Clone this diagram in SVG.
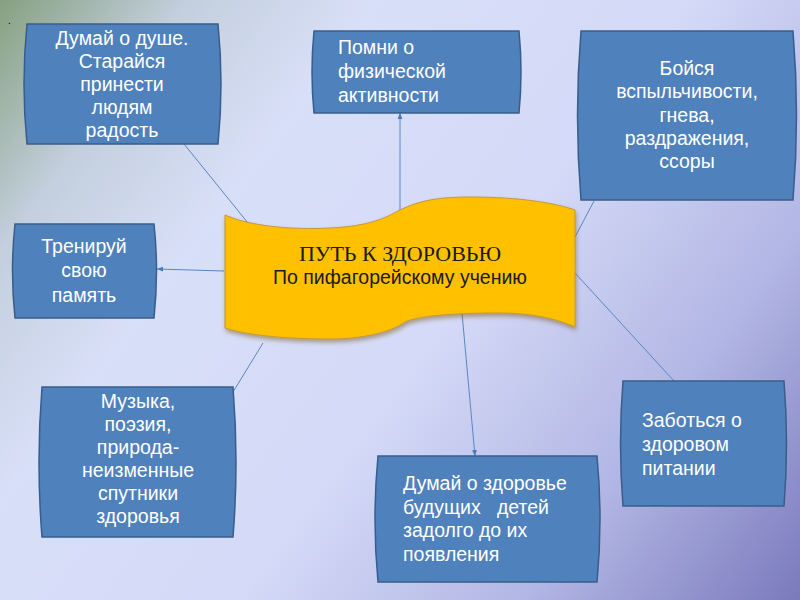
<svg xmlns="http://www.w3.org/2000/svg" width="800" height="600" viewBox="0 0 800 600">
<defs>
<linearGradient id="bg" x1="0" y1="0" x2="800" y2="600" gradientUnits="userSpaceOnUse">
<stop offset="0" stop-color="#86A080"/>
<stop offset="0.15" stop-color="#C3CFDD"/>
<stop offset="0.3" stop-color="#D8DFF8"/>
<stop offset="0.55" stop-color="#D4DAF7"/>
<stop offset="0.78" stop-color="#B2B6E4"/>
<stop offset="1" stop-color="#7A7ABC"/>
</linearGradient>
<filter id="sh" x="-10%" y="-10%" width="120%" height="130%">
<feGaussianBlur in="SourceAlpha" stdDeviation="2"/>
<feOffset dx="1" dy="3" result="b"/>
<feFlood flood-color="#7a5a20" flood-opacity="0.5"/>
<feComposite in2="b" operator="in"/>
<feMerge><feMergeNode/><feMergeNode in="SourceGraphic"/></feMerge>
</filter>
<marker id="ah" viewBox="0 0 10 10" refX="10" refY="5" markerWidth="6" markerHeight="6" orient="auto-start-reverse" markerUnits="userSpaceOnUse">
<path d="M0,1 L10,5 L0,9 Z" fill="#4A78B4"/>
</marker>
</defs>
<style>
.box{fill:#4F81BD;stroke:#385D8A;stroke-width:1.5}
.t{font-family:"Liberation Sans",Arial,sans-serif;font-size:19.5px;fill:#FFFFFF}
.c{text-anchor:middle}
.ln{stroke:#5A86C2;stroke-width:1;fill:none}
</style>
<rect width="800" height="600" fill="url(#bg)"/>
<text x="8" y="24" font-family="Liberation Sans, sans-serif" font-size="10" fill="#000">.</text>
<g id="connectors">
<line class="ln" x1="184" y1="144" x2="248" y2="223"/>
<line class="ln" x1="400" y1="210" x2="400" y2="113" marker-end="url(#ah)"/>
<line class="ln" x1="594" y1="201" x2="575" y2="237"/>
<line class="ln" x1="224" y1="271" x2="157" y2="269" marker-end="url(#ah)"/>
<line class="ln" x1="263" y1="343" x2="233" y2="392"/>
<line class="ln" x1="462" y1="313" x2="475" y2="456" marker-end="url(#ah)"/>
<line class="ln" x1="575" y1="273" x2="674" y2="381"/>
</g>
<g id="center">
<path d="M225,215 C250,226 290,230 330,228 C370,226 385,218 400,210 C420,200 440,197 470,197 C520,197 555,203 575,210 L575,327 C555,318 530,313 500,313 C460,313 420,315 405,322 C390,333 360,339 330,339 C290,339 250,336 225,328 Z" fill="#FFC000" stroke="#C8963C" stroke-width="1" filter="url(#sh)"/>
<text x="400" y="261" text-anchor="middle" font-family="Liberation Serif, Times New Roman, serif" font-size="22" fill="#1a1a1a">ПУТЬ К ЗДОРОВЬЮ</text>
<text x="400" y="284" text-anchor="middle" font-family="Liberation Sans, Arial, sans-serif" font-size="19.5" fill="#1a1a1a">По пифагорейскому учению</text>
</g>
<g id="n1">
<path class="box" d="M27,24 H218 Q224,84 218,144 H27 Q21,84 27,24 Z"/>
<text class="t c" x="122"><tspan x="122" y="45">Думай о душе.</tspan><tspan x="122" y="68">Старайся</tspan><tspan x="122" y="91">принести</tspan><tspan x="122" y="114">людям</tspan><tspan x="122" y="137">радость</tspan></text>
</g>
<g id="n2">
<path class="box" d="M314,31 H519 Q523,72 519,113 H314 Q310,72 314,31 Z"/>
<text class="t" x="338"><tspan x="338" y="54">Помни о</tspan><tspan x="338" y="78">физической</tspan><tspan x="338" y="102">активности</tspan></text>
</g>
<g id="n3">
<path class="box" d="M581,31 H793 Q800,115 793,200 H581 Q574,115 581,31 Z"/>
<text class="t c" x="687"><tspan x="687" y="75">Бойся</tspan><tspan x="687" y="98">вспыльчивости,</tspan><tspan x="687" y="122">гнева,</tspan><tspan x="687" y="145">раздражения,</tspan><tspan x="687" y="168">ссоры</tspan></text>
</g>
<g id="n4">
<path class="box" d="M15,224 H154 Q159,271 154,318 H15 Q10,271 15,224 Z"/>
<text class="t c" x="84"><tspan x="84" y="253">Тренируй</tspan><tspan x="84" y="277">свою</tspan><tspan x="84" y="302">память</tspan></text>
</g>
<g id="n5">
<path class="box" d="M42,387 H233 Q239,462 233,537 H42 Q36,462 42,387 Z"/>
<text class="t c" x="138"><tspan x="138" y="408">Музыка,</tspan><tspan x="138" y="431">поэзия,</tspan><tspan x="138" y="454">природа-</tspan><tspan x="138" y="477">неизменные</tspan><tspan x="138" y="500">спутники</tspan><tspan x="138" y="523">здоровья</tspan></text>
</g>
<g id="n6">
<path class="box" d="M378,456 H597 Q603,519 597,582 H378 Q372,519 378,456 Z"/>
<text class="t" x="403" xml:space="preserve"><tspan x="403" y="490">Думай о здоровье</tspan><tspan x="403" y="514">будущих   детей</tspan><tspan x="403" y="537">задолго до их</tspan><tspan x="403" y="561">появления</tspan></text>
</g>
<g id="n7">
<path class="box" d="M623,381 H784 Q789,443 784,506 H623 Q618,443 623,381 Z"/>
<text class="t" x="642"><tspan x="642" y="427">Заботься о</tspan><tspan x="642" y="451">здоровом</tspan><tspan x="642" y="475">питании</tspan></text>
</g>
</svg>
